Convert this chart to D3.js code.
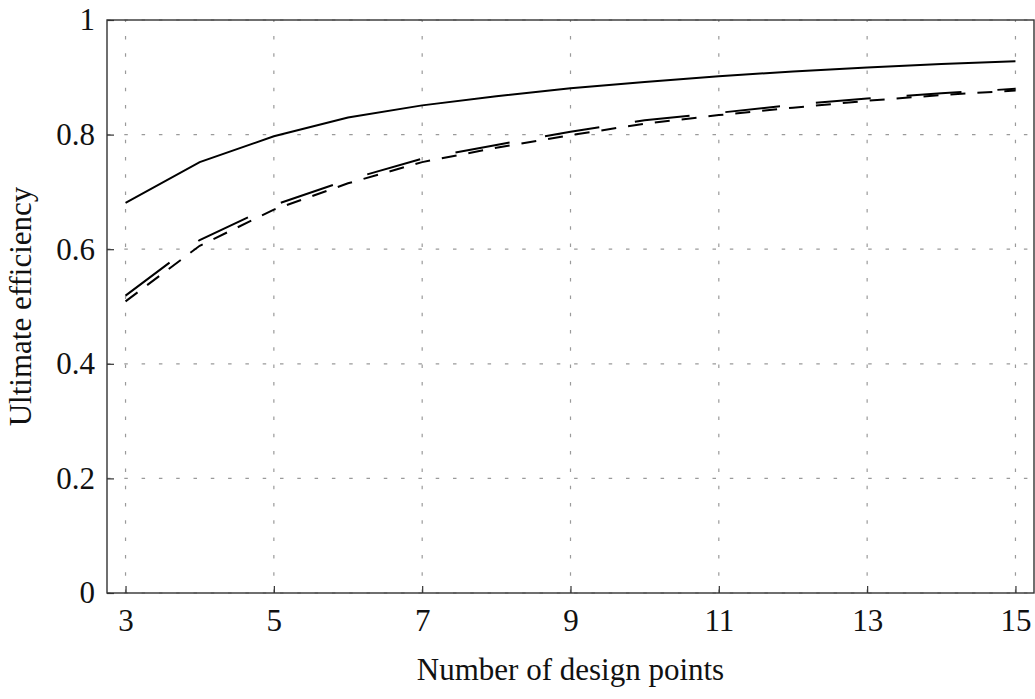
<!DOCTYPE html>
<html>
<head>
<meta charset="utf-8">
<script src="https://cdn.jsdelivr.net/npm/d3@7"></script>
<style>
  html, body { margin: 0; padding: 0; background: #fff; }
  svg { display: block; }
</style>
</head>
<body>
<svg id="chart" width="1035" height="699"></svg>
<script>
const designPoints = [3, 4, 5, 6, 7, 8, 9, 10, 11, 12, 13, 14, 15];
const solidSeries = [0.681, 0.752, 0.797, 0.830, 0.851, 0.867, 0.881, 0.892, 0.902, 0.910, 0.917, 0.923, 0.928];
const longDashSeries = [0.519, 0.616, 0.677, 0.721, 0.758, 0.782, 0.805, 0.825, 0.838, 0.852, 0.863, 0.872, 0.880];
const shortDashSeries = [0.509, 0.606, 0.669, 0.715, 0.752, 0.777, 0.799, 0.819, 0.834, 0.847, 0.859, 0.869, 0.877];
const xTicks = [3, 5, 7, 9, 11, 13, 15];
const yTicks = [0, 0.2, 0.4, 0.6, 0.8, 1];
const xLabel = "Number of design points";
const yLabel = "Ultimate efficiency";

const FONT = "'Liberation Serif', 'Times New Roman', Times, serif";
const svg = d3.select("#chart");
const margin = { left: 107, right: 1, top: 20, bottom: 106 };
const W = 1035, H = 699;
const x = d3.scaleLinear().domain([2.75, 15.25]).range([margin.left, W - margin.right]);
const y = d3.scaleLinear().domain([0, 1]).range([H - margin.bottom, margin.top]);

// grid
const grid = svg.append("g");
grid.selectAll("line.vg").data(xTicks).join("line")
  .attr("x1", d => x(d)).attr("x2", d => x(d))
  .attr("y1", y(0)).attr("y2", y(1))
  .attr("stroke", "#9a9a9a").attr("stroke-width", 1.2)
  .attr("stroke-dasharray", "3.5,13.8");
grid.selectAll("line.hg").data(yTicks).join("line")
  .attr("y1", d => y(d)).attr("y2", d => y(d))
  .attr("x1", x(2.75)).attr("x2", x(15.25))
  .attr("stroke", "#9a9a9a").attr("stroke-width", 1.2)
  .attr("stroke-dasharray", "3.5,13.8");

// axes with inner ticks
const xAxis = d3.axisBottom(x).tickValues(xTicks).tickSize(-7).tickPadding(16).tickFormat(d3.format("d"));
const yAxis = d3.axisLeft(y).tickValues(yTicks).tickSize(-7).tickPadding(12).tickFormat(d => d === 0 || d === 1 ? String(d) : d3.format(".1f")(d));
const gx = svg.append("g").attr("transform", `translate(0,${y(0)})`).call(xAxis);
const gy = svg.append("g").attr("transform", `translate(${x(2.75)},0)`).call(yAxis);
[gx, gy].forEach(g => {
  g.attr("font-family", null).attr("font-size", null);
  g.select(".domain").remove();
  g.selectAll(".tick line").attr("stroke", "#333").attr("stroke-width", 1.2);
  g.selectAll(".tick text").style("font-size", "31px").style("fill", "#111")
    .style("font-family", FONT);
});

// frame
svg.append("rect")
  .attr("x", x(2.75)).attr("y", y(1))
  .attr("width", x(15.25) - x(2.75)).attr("height", y(0) - y(1))
  .attr("fill", "none").attr("stroke", "#333").attr("stroke-width", 1.4);

// lines
const line = d3.line().x(d => x(d[0])).y(d => y(d[1]));
const series = [
  { values: solidSeries, dash: null },
  { values: longDashSeries, dash: "55,36" },
  { values: shortDashSeries, dash: "15,12" }
];
svg.append("g").selectAll("path").data(series).join("path")
  .attr("d", s => line(designPoints.map((p, i) => [p, s.values[i]])))
  .attr("fill", "none").attr("stroke", "#000").attr("stroke-width", 2)
  .attr("stroke-dasharray", s => s.dash);

// axis labels
svg.append("text").attr("x", (x(2.75) + x(15.25)) / 2).attr("y", 680)
  .attr("text-anchor", "middle")
  .style("font-family", FONT).style("font-size", "31px").style("fill", "#111")
  .text(xLabel);
svg.append("text")
  .attr("transform", `translate(31,${(y(0) + y(1)) / 2}) rotate(-90)`)
  .attr("text-anchor", "middle")
  .style("font-family", FONT).style("font-size", "31px").style("fill", "#111")
  .text(yLabel);
</script>
</body>
</html>
